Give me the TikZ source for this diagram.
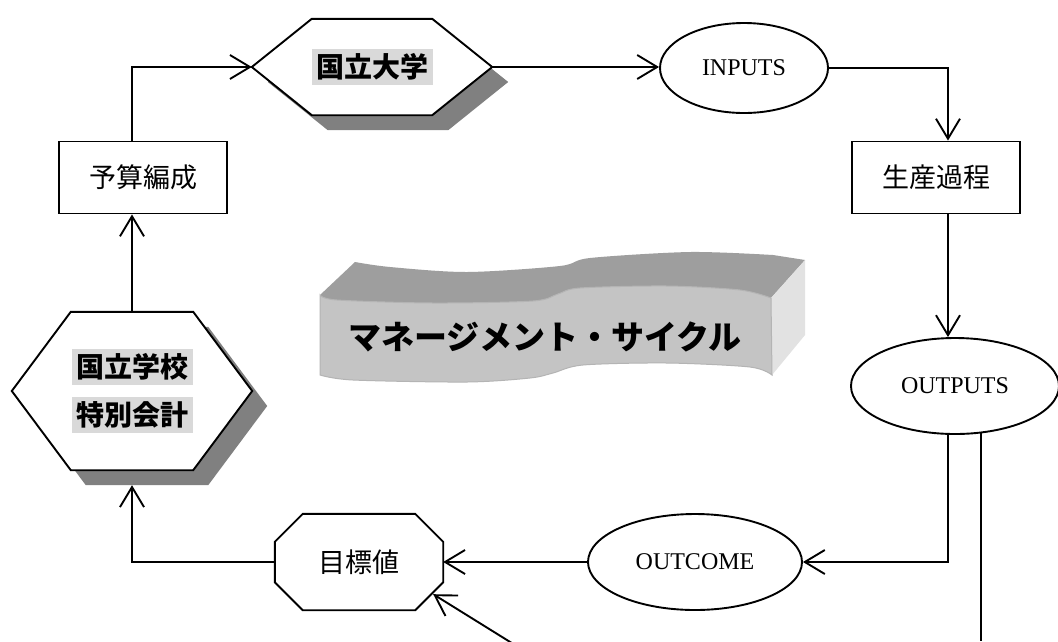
\documentclass[tikz,border=0pt]{standalone}
\usepackage{fontspec}
\setmainfont{Liberation Serif}
\newfontfamily\jp{Noto Sans CJK JP}
\usetikzlibrary{arrows.meta,calc,shapes.geometric,backgrounds}
\definecolor{hl}{HTML}{D9D9D9}
\definecolor{shadowgray}{HTML}{808080}
\definecolor{bfront}{HTML}{C4C4C4}
\definecolor{btop}{HTML}{9E9E9E}
\definecolor{bside}{HTML}{E2E2E2}
\definecolor{bedge}{HTML}{B4B4B4}
\setlength{\fboxsep}{4.5pt}
\begin{document}
\begin{tikzpicture}[x=1pt,y=-1pt,
  ln/.style={line width=1.9pt},
  arr/.style={ln,-{Straight Barb[length=20pt,width=24pt]}},
  jpreg/.style={font=\jp\fontsize{27pt}{32pt}\selectfont},
  jpbold/.style={font=\jp\bfseries\fontsize{28pt}{48pt}\selectfont},
  en/.style={font=\fontsize{24pt}{28pt}\selectfont},
  boxnode/.style={draw,ln,fill=white,minimum width=168pt,minimum height=72pt,inner sep=0pt,jpreg},
  ellnode/.style={draw,ln,ellipse,fill=white,inner sep=0pt,en},
  hexnode/.style={inner sep=0pt,minimum width=240pt,jpbold,align=center}]
\useasboundingbox (0,0) rectangle (1058,641);

% banner
\fill[btop] plot[smooth,tension=0.5] coordinates {(320,295) (337,300) (433,303) (533,301) (558,294) (580,288) (667,286) (740,290) (771,298)}
  -- (805,260)
  -- plot[smooth,tension=0.5] coordinates {(773,255) (690,252) (590,258) (560,266) (467,272) (390,267) (355,262)} -- cycle;
\fill[bside] (771,298) -- (805,260) -- (805,335) -- (772,375) -- cycle;
\filldraw[fill=bfront,draw=bedge,line width=1pt] plot[smooth,tension=0.5] coordinates {(320,295) (337,300) (433,303) (533,301) (558,294) (580,288) (667,286) (740,290) (771,298)}
  -- plot[smooth,tension=0.5] coordinates {(772,375) (750,367) (667,363) (583,365) (553,373) (530,378) (467,382) (353,380) (320,375)} -- cycle;
\node[font=\jp\bfseries\fontsize{33pt}{40pt}\selectfont] (title) at (545,337) {マネージメント・サイクル};

% nodes
\node[boxnode] (yosan) at (143,177.5) {予算編成};
\node[boxnode] (seisan) at (936,177.5) {生産過程};
\node[ellnode,minimum width=168pt,minimum height=90pt] (inputs) at (744,68) {INPUTS};
\node[ellnode,minimum width=208pt,minimum height=96pt] (outputs) at (955,386) {OUTPUTS};
\node[ellnode,minimum width=214pt,minimum height=96pt] (outcome) at (695,562) {OUTCOME};
\node[inner sep=0pt,minimum width=168pt,minimum height=96pt,jpreg] (mokuhyo) at (359,562) {目標値};
\node[hexnode,minimum height=96pt] (kd) at (372,67) {\colorbox{hl}{国立大学}};
\node[hexnode,minimum height=158pt] (kg) at (132,391) {\colorbox{hl}{国立学校}\\\colorbox{hl}{特別会計}};

\begin{scope}[on background layer]
\fill[white] (0,0) rectangle (1058,641);
\fill[shadowgray] ($(kd.west)+(16,15)$) -- ($(kd.north west)+(76,15)$) -- ($(kd.north east)+(-44,15)$) -- ($(kd.east)+(16,15)$) -- ($(kd.south east)+(-44,15)$) -- ($(kd.south west)+(76,15)$) -- cycle;
\draw[ln,fill=white] (kd.west) -- ($(kd.north west)+(60,0)$) -- ($(kd.north east)+(-60,0)$) -- (kd.east) -- ($(kd.south east)+(-60,0)$) -- ($(kd.south west)+(60,0)$) -- cycle;
\fill[shadowgray] ($(kg.west)+(15,15)$) -- ($(kg.north west)+(74,15)$) -- ($(kg.north east)+(-44,15)$) -- ($(kg.east)+(15,15)$) -- ($(kg.south east)+(-44,15)$) -- ($(kg.south west)+(74,15)$) -- cycle;
\draw[ln,fill=white] (kg.west) -- ($(kg.north west)+(59,0)$) -- ($(kg.north east)+(-59,0)$) -- (kg.east) -- ($(kg.south east)+(-59,0)$) -- ($(kg.south west)+(59,0)$) -- cycle;
\draw[ln,fill=white] ($(mokuhyo.north west)+(28,0)$) -- ($(mokuhyo.north east)+(-28,0)$) -- ($(mokuhyo.north east)+(0,28)$) -- ($(mokuhyo.south east)+(0,-28)$) -- ($(mokuhyo.south east)+(-28,0)$) -- ($(mokuhyo.south west)+(28,0)$) -- ($(mokuhyo.south west)+(0,-28)$) -- ($(mokuhyo.north west)+(0,28)$) -- cycle;
\end{scope}

% connectors
\draw[arr] (kd.east) -- (kd.east -| inputs.west);
\draw[arr] (inputs.east) -| ([xshift=12pt]seisan.north);
\draw[arr] ([xshift=12pt]seisan.south) -- ([xshift=12pt]seisan.south |- outputs.north);
\coordinate (c1) at (948,562);
\draw[arr] (outputs.south -| c1) -- (c1) -- (outcome.east);
\draw[arr] (outcome.west) -- (mokuhyo.east);
\coordinate (kgs) at ($(kg.south)+(0,15)$);
\draw[arr] (mokuhyo.west) -| (kgs);
\draw[arr] (kg.north) -- ([xshift=-11pt]yosan.south);
\draw[arr] ([xshift=-11pt]yosan.north) |- (kd.west);
\coordinate (c3) at (515,645);
\coordinate (tip) at ($(mokuhyo.south east)+(-10,-16)$);
\draw[arr] (c3) -- (tip);
\coordinate (c5) at (981,641);
\draw[ln] (outputs.-61) -- (outputs.-61 |- c5);
\end{tikzpicture}
\end{document}
